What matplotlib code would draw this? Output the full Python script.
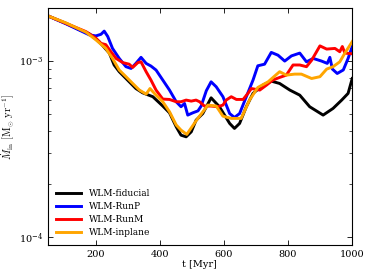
import matplotlib
matplotlib.use("Agg")
import matplotlib.pyplot as plt

plt.rcParams['font.family'] = ['DejaVu Serif']
plt.rcParams['mathtext.fontset'] = 'cm'

t_fid = [49, 106, 148, 179, 210, 242, 257, 273, 294, 325, 346, 378, 409, 430, 451, 466, 482, 498,
         513, 534, 560, 586, 618, 633, 649, 670, 691, 722, 748, 774, 806, 837, 868, 910, 941, 968, 988, 1001]
m_fid = [1.81e-3, 1.64e-3, 1.51e-3, 1.43e-3, 1.29e-3, 1.11e-3, 9.5e-4, 8.7e-4, 7.96e-4, 6.98e-4, 6.6e-4,
         6.27e-4, 5.55e-4, 5.08e-4, 4.23e-4, 3.79e-4, 3.71e-4, 3.96e-4, 4.61e-4, 5.03e-4, 6.18e-4, 5.5e-4,
         4.42e-4, 4.14e-4, 4.42e-4, 5.5e-4, 6.55e-4, 7.3e-4, 7.69e-4, 7.46e-4, 6.84e-4, 6.4e-4, 5.5e-4,
         4.93e-4, 5.38e-4, 6.0e-4, 6.55e-4, 7.96e-4]

t_runp = [49, 106, 148, 179, 200, 216, 226, 237, 252, 273, 294, 310, 325, 341, 357, 372, 388, 409, 430,
          451, 466, 477, 487, 503, 519, 529, 545, 560, 576, 597, 618, 633, 649, 670, 691, 706, 727, 748,
          769, 790, 811, 837, 858, 879, 905, 923, 931, 939, 954, 973, 988, 1001]
m_runp = [1.81e-3, 1.63e-3, 1.50e-3, 1.41e-3, 1.39e-3, 1.42e-3, 1.48e-3, 1.38e-3, 1.18e-3, 1.035e-3,
          9.29e-4, 9.08e-4, 9.7e-4, 1.05e-3, 9.7e-4, 9.37e-4, 8.89e-4, 7.8e-4, 6.84e-4, 5.87e-4, 5.5e-4,
          5.74e-4, 4.93e-4, 5.08e-4, 5.21e-4, 5.55e-4, 6.78e-4, 7.62e-4, 7.14e-4, 6.27e-4, 5.03e-4, 4.78e-4,
          5.03e-4, 6.27e-4, 7.8e-4, 9.4e-4, 9.6e-4, 1.12e-3, 1.08e-3, 1.0e-3, 1.07e-3, 1.11e-3, 9.9e-4,
          1.035e-3, 1.0e-3, 9.7e-4, 1.05e-3, 9.0e-4, 8.5e-4, 8.9e-4, 1.035e-3, 1.21e-3]

t_runm = [49, 106, 169, 200, 216, 231, 247, 263, 284, 304, 315, 331, 341, 357, 372, 388, 409, 430, 451,
          466, 482, 498, 513, 524, 539, 560, 581, 597, 607, 623, 639, 660, 675, 686, 712, 733, 753, 774,
          795, 816, 837, 858, 874, 900, 921, 947, 962, 970, 978, 1001]
m_runm = [1.81e-3, 1.64e-3, 1.47e-3, 1.35e-3, 1.26e-3, 1.24e-3, 1.13e-3, 1.035e-3, 9.8e-4, 9.6e-4,
          9.2e-4, 9.8e-4, 9.9e-4, 8.7e-4, 7.8e-4, 6.84e-4, 6.08e-4, 6.05e-4, 5.87e-4, 5.87e-4, 6.0e-4,
          5.92e-4, 6.0e-4, 5.87e-4, 5.55e-4, 5.55e-4, 5.5e-4, 5.62e-4, 6.0e-4, 6.27e-4, 6.05e-4, 6.05e-4,
          6.55e-4, 6.98e-4, 6.84e-4, 7.3e-4, 7.8e-4, 8.07e-4, 8.32e-4, 9.5e-4, 9.5e-4, 9.29e-4, 1.01e-3,
          1.22e-3, 1.17e-3, 1.18e-3, 1.13e-3, 1.21e-3, 1.11e-3, 1.10e-3]

t_inpl = [49, 106, 169, 200, 231, 252, 273, 294, 315, 336, 357, 369, 388, 409, 430, 451, 466, 484, 513,
          550, 576, 597, 623, 654, 680, 706, 738, 774, 795, 821, 842, 874, 900, 921, 941, 962, 978, 1001]
m_inpl = [1.81e-3, 1.65e-3, 1.46e-3, 1.32e-3, 1.18e-3, 1.035e-3, 8.89e-4, 8.15e-4, 7.46e-4, 6.84e-4,
          6.49e-4, 6.98e-4, 6.4e-4, 5.87e-4, 5.15e-4, 4.33e-4, 4.05e-4, 3.83e-4, 4.57e-4, 5.62e-4, 5.55e-4,
          4.86e-4, 4.72e-4, 4.72e-4, 6.0e-4, 7.08e-4, 7.62e-4, 8.7e-4, 8.32e-4, 8.43e-4, 8.43e-4, 7.96e-4,
          8.15e-4, 9.0e-4, 9.29e-4, 9.9e-4, 1.11e-3, 1.29e-3]

labels = ['WLM-fiducial', 'WLM-RunP', 'WLM-RunM', 'WLM-inplane']
colors = ['black', 'blue', 'red', 'orange']

fig = plt.figure(figsize=(3.74, 2.8), dpi=100)
ax = fig.add_axes([0.128, 0.125, 0.813, 0.846])

for t, m, lab, c in zip([t_fid, t_runp, t_runm, t_inpl], [m_fid, m_runp, m_runm, m_inpl], labels, colors):
    ax.plot(t, m, color=c, lw=2.1, label=lab)

ax.set_yscale('log')
ax.set_xlim(50, 1000)
ax.set_ylim(9e-5, 2e-3)
ax.set_xticks([200, 400, 600, 800, 1000])
ax.tick_params(which='both', direction='in', top=True, right=True, labelsize=7)
ax.tick_params(which='major', length=3.5, width=0.6)
ax.tick_params(which='minor', length=2, width=0.5)
for s in ax.spines.values():
    s.set_linewidth(0.8)

ax.set_xlabel('t [Myr]', fontsize=7, labelpad=1)
ax.set_ylabel(r'$\dot{M}_{\rm in}\ [\rm M_{\odot}\ yr^{-1}]$', fontsize=7.5, labelpad=2)
ax.legend(loc='lower left', frameon=False, fontsize=6.5, handlelength=2.8, labelspacing=0.45,
          borderaxespad=0.5)

fig.savefig('out.png', dpi=100)
